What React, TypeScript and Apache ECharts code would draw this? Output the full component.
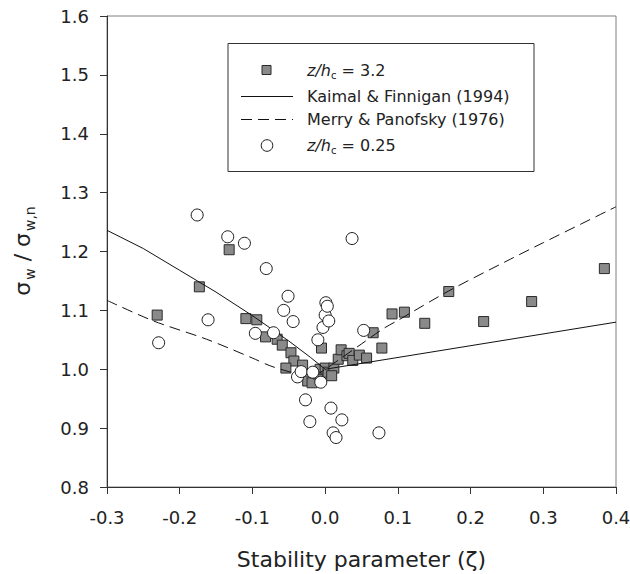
import React, { useEffect, useRef } from "react";
import * as echarts from "echarts";

const FONT = '"DejaVu Sans", "Liberation Sans", Arial, sans-serif';

// z/hc = 3.2 (grey squares): [zeta, sigma_w / sigma_w,n]
const squaresHigh: [number, number][] = [
  [-0.231, 1.092], [-0.173, 1.14], [-0.132, 1.203], [-0.109, 1.086], [-0.094, 1.084],
  [-0.082, 1.055], [-0.066, 1.051], [-0.059, 1.041], [-0.047, 1.028], [-0.043, 1.014],
  [-0.054, 1.002], [-0.031, 1.007], [-0.024, 0.98], [-0.018, 0.977], [-0.01, 0.992],
  [-0.007, 1.0], [-0.005, 1.036], [0.0, 1.002], [0.004, 0.995], [0.012, 1.002],
  [0.009, 0.989], [0.018, 1.017], [0.022, 1.033], [0.03, 1.023], [0.033, 1.027],
  [0.038, 1.015], [0.047, 1.024], [0.057, 1.019], [0.066, 1.062], [0.078, 1.036],
  [0.092, 1.094], [0.109, 1.097], [0.137, 1.078], [0.17, 1.132], [0.218, 1.081],
  [0.284, 1.115], [0.384, 1.171],
];

// z/hc = 0.25 (open circles)
const circlesLow: [number, number][] = [
  [-0.229, 1.045], [-0.176, 1.262], [-0.161, 1.084], [-0.134, 1.225], [-0.111, 1.214],
  [-0.096, 1.061], [-0.081, 1.171], [-0.071, 1.062], [-0.057, 1.1], [-0.051, 1.124],
  [-0.044, 1.081], [-0.038, 0.987], [-0.033, 0.996], [-0.027, 0.948], [-0.021, 0.911],
  [-0.017, 0.995], [-0.01, 1.05], [-0.006, 0.978], [-0.003, 1.071], [0.0, 1.092],
  [0.001, 1.113], [0.003, 1.107], [0.005, 1.082], [0.008, 0.934], [0.011, 0.892],
  [0.015, 0.884], [0.023, 0.914], [0.037, 1.222], [0.053, 1.066], [0.074, 0.892],
];

// Kaimal & Finnigan (1994)
const kaimalCurve: [number, number][] = [
  [-0.3, 1.236], [-0.25, 1.205], [-0.2, 1.168], [-0.15, 1.131], [-0.1, 1.091],
  [-0.05, 1.048], [-0.02, 1.02], [0.0, 1.0], [0.4, 1.08],
];

// Merry & Panofsky (1976)
const merryCurve: [number, number][] = [
  [-0.3, 1.117], [-0.236, 1.082], [-0.163, 1.051], [-0.1, 1.019], [-0.076, 1.006],
  [-0.05, 0.996], [-0.03, 0.991], [-0.01, 0.993], [0.0, 1.0], [0.05, 1.043],
  [0.08, 1.069], [0.1, 1.083], [0.17, 1.133], [0.25, 1.184], [0.3, 1.215], [0.4, 1.276],
];

const xAxisTitle = "Stability parameter (\u03B6)";
const legendLabels = ["Kaimal & Finnigan (1994)", "Merry & Panofsky (1976)"];

function fmt(v: number) {
  if (Math.abs(v) < 1e-9) return "0.0";
  return v.toFixed(1);
}

export default function App() {
  const ref = useRef<HTMLDivElement>(null);
  useEffect(() => {
    if (!ref.current) return;
    const chart = echarts.init(ref.current, null, { renderer: "svg" });
    const dark = "#222";
    const legendText = (y: number, text: string, rich?: any) => ({
      type: "text",
      x: 307,
      y,
      z: 20,
      style: {
        text,
        fill: dark,
        font: `16px ${FONT}`,
        fontSize: 16,
        fontFamily: FONT,
        align: "left",
        verticalAlign: "middle",
        rich,
      },
    });
    const zhRich = {
      i: { fontSize: 16, fontFamily: FONT, fontStyle: "italic", fill: dark, lineHeight: 20, verticalAlign: "middle" },
      s: { fontSize: 10, fontFamily: FONT, fill: dark, lineHeight: 10, verticalAlign: "bottom" },
      n: { fontSize: 16, fontFamily: FONT, fill: dark, lineHeight: 20, verticalAlign: "middle" },
    };
    chart.setOption({
      animation: false,
      backgroundColor: "#fff",
      grid: {
        left: 107, right: 14, top: 16, bottom: 87,
        containLabel: false, outerBoundsMode: "none",
        show: true, borderColor: "#808080", borderWidth: 1,
      },
      xAxis: {
        type: "value",
        min: -0.3,
        max: 0.4,
        interval: 0.1,
        splitLine: { show: false },
        axisLine: { show: true, onZero: false, lineStyle: { color: "#333", width: 1 } },
        axisTick: { show: true, inside: false, length: 7, lineStyle: { color: "#333" } },
        axisLabel: { fontSize: 18, fontFamily: FONT, color: dark, margin: 21, formatter: fmt },
        name: xAxisTitle,
        nameLocation: "middle",
        nameGap: 60,
        nameTextStyle: { fontSize: 22, fontFamily: FONT, color: dark, lineHeight: 24 },
      },
      yAxis: {
        type: "value",
        min: 0.8,
        max: 1.6,
        interval: 0.1,
        splitLine: { show: false },
        axisLine: { show: true, onZero: false, lineStyle: { color: "#333", width: 1 } },
        axisTick: { show: true, inside: false, length: 7, lineStyle: { color: "#333" } },
        axisLabel: { fontSize: 18, fontFamily: FONT, color: dark, margin: 18, formatter: fmt },
      },
      series: [
        {
          name: "z/hc = 3.2",
          type: "scatter",
          data: squaresHigh,
          symbol: "rect",
          symbolSize: 10,
          itemStyle: { color: "#8a8a8a", borderColor: "#2a2a2a", borderWidth: 1, opacity: 1 },
          z: 2,
        },
        {
          name: legendLabels[0],
          type: "line",
          data: kaimalCurve,
          showSymbol: false,
          symbol: "none",
          lineStyle: { color: "#111", width: 1 },
          z: 3,
        },
        {
          name: legendLabels[1],
          type: "line",
          data: merryCurve,
          showSymbol: false,
          symbol: "none",
          smooth: 0.3,
          lineStyle: { color: "#111", width: 1, type: [11, 6] },
          z: 3,
        },
        {
          name: "z/hc = 0.25",
          type: "scatter",
          data: circlesLow,
          symbol: "circle",
          symbolSize: 12,
          itemStyle: { color: "#fff", borderColor: "#1a1a1a", borderWidth: 1, opacity: 1 },
          z: 4,
        },
      ],
      graphic: [
        {
          type: "text",
          x: 22,
          y: 251,
          rotation: Math.PI / 2,
          z: 20,
          style: {
            text: "{m|\u03C3}{s|w}{m| / \u03C3}{s|w,n}",
            align: "center",
            verticalAlign: "middle",
            fill: dark,
            font: `22px ${FONT}`,
            rich: {
              m: { fontSize: 22, fontFamily: FONT, fill: dark, lineHeight: 30, verticalAlign: "middle" },
              s: { fontSize: 14, fontFamily: FONT, fill: dark, lineHeight: 14, verticalAlign: "bottom", padding: [0, 0, 0, 2] },
            },
          },
        },
        {
          type: "rect",
          shape: { x: 228, y: 43.5, width: 306, height: 128 },
          z: 10,
          style: { fill: "#fff", stroke: "#333", lineWidth: 1 },
        },
        {
          type: "rect",
          shape: { x: 262, y: 65.5, width: 9, height: 9 },
          z: 11,
          style: { fill: "#8a8a8a", stroke: "#2a2a2a", lineWidth: 1 },
        },
        legendText(70, "{i|z/h}{s|c}{n| = 3.2}", zhRich),
        {
          type: "line",
          shape: { x1: 241, y1: 96.5, x2: 293, y2: 96.5 },
          z: 11,
          style: { stroke: "#111", lineWidth: 1 },
        },
        legendText(96.5, legendLabels[0]),
        {
          type: "line",
          shape: { x1: 241, y1: 119.5, x2: 293, y2: 119.5 },
          z: 11,
          style: { stroke: "#111", lineWidth: 1, lineDash: [11, 6] },
        },
        legendText(119.5, legendLabels[1]),
        {
          type: "circle",
          shape: { cx: 267, cy: 145.5, r: 5.8 },
          z: 11,
          style: { fill: "#fff", stroke: "#1a1a1a", lineWidth: 1 },
        },
        legendText(145.5, "{i|z/h}{s|c}{n| = 0.25}", zhRich),
      ],
    });
    return () => chart.dispose();
  }, []);
  return (
    <div
      ref={ref}
      style={{ position: "fixed", left: 0, top: 0, width: 630, height: 574, background: "#fff" }}
    />
  );
}
